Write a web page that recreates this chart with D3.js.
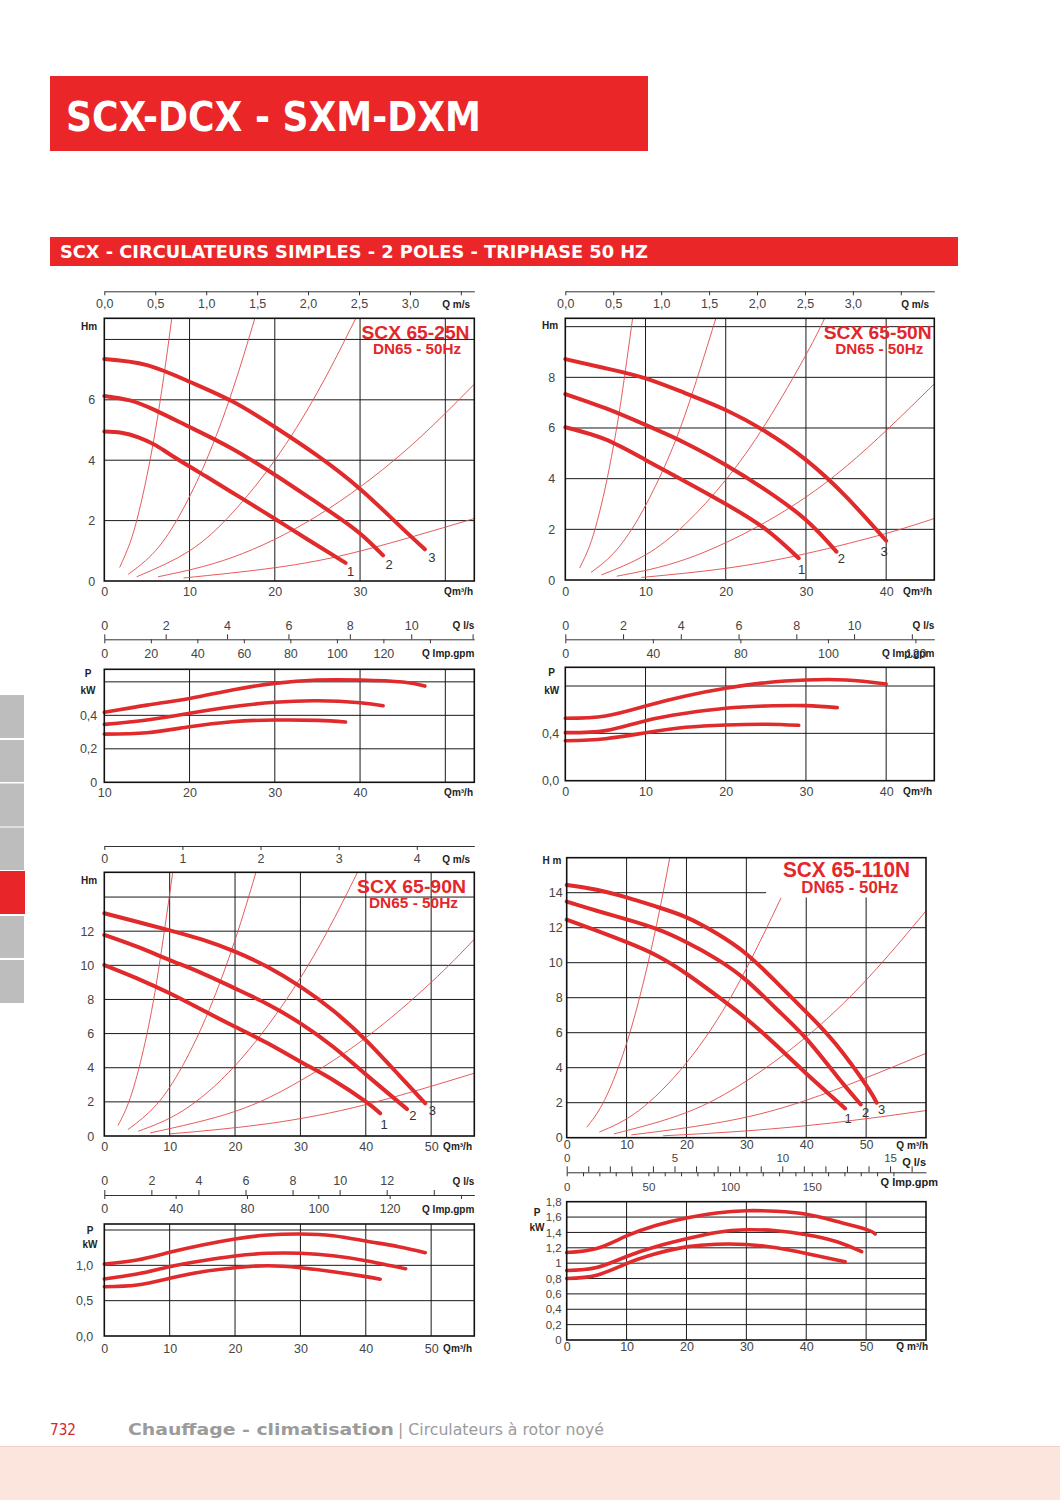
<!DOCTYPE html>
<html>
<head>
<meta charset="utf-8">
<script src="https://cdn.jsdelivr.net/npm/d3@7"></script>
<style>
  body { margin: 0; background: #fff; }
  svg { display: block; }
</style>
</head>
<body>
<div id="page"></div>
<script>
// ---------- data (Q m3/h, H m or P kW) ----------
// SCX 65-25N
const headA1 = [[0,4.95],[2,4.91],[4,4.76],[6,4.5],[8,4.14],[12,3.45],[16,2.76],[20,2.06],[24,1.35],[28.3,0.6]];
const headA2 = [[0,6.13],[3,5.98],[6,5.65],[10,5.1],[15,4.38],[20,3.52],[24,2.77],[28,2.0],[30.5,1.45],[32.7,0.85]];
const headA3 = [[0,7.35],[5,7.15],[10,6.6],[15,5.95],[20,5.1],[25,4.15],[30,3.05],[34,2.0],[37.6,1.05]];
const sysA1 = [[1.8,0.45],[3,1.25],[4,2.22],[5,3.48],[6,5.0],[7,6.81],[7.9,8.67]];
const sysA2 = [[2.8,0.22],[6,1.0],[9,2.26],[12,4.02],[15,6.28],[17.7,8.74]];
const sysA3 = [[3.8,0.14],[10,1.0],[15,2.25],[20,4.0],[25,6.25],[29.5,8.7]];
const sysA4 = [[6.3,0.14],[15,0.78],[25,2.16],[35,4.24],[43.4,6.52]];
const sysA5 = [[9.3,0.1],[20,0.44],[30,0.99],[43.4,2.07]];
const powerA1 = [[10,0.288],[15,0.296],[20,0.332],[25,0.362],[30,0.372],[35,0.37],[38.3,0.36]];
const powerA2 = [[10,0.346],[15,0.372],[20,0.412],[25,0.451],[30,0.478],[35,0.487],[40,0.475],[42.7,0.457]];
const powerA3 = [[10,0.418],[15,0.461],[20,0.501],[25,0.551],[30,0.591],[35,0.611],[40,0.611],[45,0.599],[47.6,0.575]];

// SCX 65-50N
const headB1 = [[0,6.03],[5,5.55],[10,4.74],[15,3.88],[20,3.0],[25,2.0],[29.1,0.86]];
const headB2 = [[0,7.34],[5,6.78],[10,6.12],[15,5.4],[20,4.54],[25,3.55],[30,2.37],[33.8,1.12]];
const headB3 = [[0,8.72],[5,8.36],[10,7.96],[15,7.37],[20,6.71],[25,5.85],[30,4.74],[35,3.29],[40,1.55]];
const sysB1 = [[1.8,0.48],[3,1.32],[4,2.35],[5,3.67],[6,5.28],[7,7.19],[8.4,10.35]];
const sysB2 = [[3.2,0.3],[6,1.05],[9,2.37],[12,4.22],[15,6.59],[18.8,10.36]];
const sysB3 = [[4.5,0.2],[10,0.99],[15,2.22],[20,3.95],[25,6.18],[30,8.89],[32.3,10.31]];
const sysB4 = [[6.4,0.15],[15,0.82],[25,2.29],[35,4.48],[46,7.74]];
const sysB5 = [[9.5,0.1],[20,0.46],[30,1.04],[40,1.84],[46,2.43]];
const powerB1 = [[0,0.338],[5,0.355],[10,0.405],[15,0.451],[20,0.471],[25,0.477],[29.1,0.468]];
const powerB2 = [[0,0.406],[5,0.423],[10,0.507],[15,0.57],[20,0.612],[25,0.631],[30,0.634],[33.9,0.617]];
const powerB3 = [[0,0.527],[5,0.547],[10,0.631],[15,0.716],[20,0.781],[25,0.828],[30,0.851],[35,0.851],[40,0.817]];

// SCX 65-90N
const headC1 = [[0,10.02],[5,9.24],[10,8.36],[15,7.38],[20,6.4],[25,5.43],[30,4.35],[35,3.28],[40,2.01],[42.2,1.33]];
const headC2 = [[0,11.78],[5,11.09],[10,10.31],[15,9.53],[20,8.65],[25,7.72],[30,6.6],[35,5.23],[40,3.61],[46.3,1.58]];
const headC3 = [[0,13.05],[5,12.55],[10,12.05],[15,11.5],[20,10.8],[25,9.9],[30,8.75],[35,7.35],[40,5.62],[45,3.6],[49.1,1.91]];
const sysC1 = [[2.1,0.62],[4,2.26],[6,5.08],[8,9.02],[10.45,15.4]];
const sysC2 = [[3.6,0.37],[8,1.84],[12,4.13],[16,7.35],[20,11.48],[23.2,15.45]];
const sysC3 = [[5.2,0.28],[12,1.48],[20,4.12],[28,8.08],[34,11.9],[38.7,15.43]];
const sysC4 = [[7,0.18],[20,1.44],[30,3.24],[40,5.76],[50,9.0],[56.6,11.53]];
const sysC5 = [[10,0.12],[25,0.72],[40,1.84],[56.6,3.68]];
const powerC1 = [[0,0.698],[5,0.722],[10,0.816],[15,0.91],[20,0.967],[25,0.995],[30,0.967],[35,0.91],[40,0.84],[42.2,0.803]];
const powerC2 = [[0,0.807],[5,0.877],[10,0.981],[15,1.066],[20,1.132],[25,1.17],[30,1.17],[35,1.136],[40,1.066],[46.1,0.952]];
const powerC3 = [[0,1.019],[5,1.075],[10,1.184],[15,1.288],[20,1.373],[25,1.429],[30,1.443],[35,1.419],[40,1.344],[45,1.264],[49.1,1.179]];

// SCX 65-110N
const headD1 = [[0,12.46],[5,11.83],[10,11.17],[15,10.41],[20,9.37],[25,8.13],[30,6.8],[35,5.28],[40,3.67],[46.5,1.67]];
const headD2 = [[0,13.49],[5,12.97],[10,12.48],[15,11.93],[20,11.17],[25,10.22],[30,8.99],[35,7.37],[40,5.66],[45,3.57],[49.1,1.9]];
const headD3 = [[0,14.44],[5,14.17],[10,13.73],[15,13.2],[20,12.59],[25,11.68],[30,10.5],[35,8.89],[40,7.18],[45,5.32],[50,3.0],[51.75,2.0]];
const sysD1 = [[3.35,0.6],[6,1.94],[9,4.37],[12,7.78],[15,12.15],[17.2,15.98]];
const sysD2 = [[5.45,0.32],[12,1.54],[20,4.28],[28,8.39],[35.8,13.71]];
const sysD3 = [[7.9,0.22],[20,1.44],[30,3.24],[40,5.76],[50,9.0],[60,12.96]];
const sysD4 = [[10.8,0.16],[25,0.84],[40,2.14],[60,4.82]];
const sysD5 = [[16.1,0.11],[30,0.39],[45,0.87],[60,1.55]];
const powerD1 = [[0,0.8],[5,0.843],[10,0.995],[15,1.125],[20,1.212],[25,1.247],[30,1.243],[35,1.2],[40,1.125],[46.5,1.017]];
const powerD2 = [[0,0.904],[5,0.943],[10,1.087],[15,1.217],[20,1.317],[25,1.4],[30,1.435],[35,1.421],[40,1.369],[45,1.282],[49.25,1.15]];
const powerD3 = [[0,1.138],[5,1.19],[10,1.354],[15,1.493],[20,1.588],[25,1.653],[30,1.683],[35,1.675],[40,1.636],[45,1.545],[50,1.44],[51.5,1.381]];

// ---------- tick values and labels ----------
const curveNames = ["1", "2", "3"];
const msTicks25 = [0, 0.5, 1, 1.5, 2, 2.5, 3, 3.5];
const msLabels25 = ["0,0", "0,5", "1,0", "1,5", "2,0", "2,5", "3,0", ""];
const msTicks90 = [0, 1, 2, 3, 4];
const msLabels90 = ["0", "1", "2", "3", "4"];
const lsTicksA = [0, 2, 4, 6, 8, 10, 12];
const lsLabelsA = ["0", "2", "4", "6", "8", "10", ""];
const gpmTicksA = [0, 20, 40, 60, 80, 100, 120, 140];
const gpmLabelsA = ["0", "20", "40", "60", "80", "100", "120", ""];
const gpmTicksB = [0, 40, 80, 120, 160];
const gpmLabelsB = ["0", "40", "80", "100", "120"];
const lsTicksC = [0, 2, 4, 6, 8, 10, 12, 14];
const lsLabelsC = ["0", "2", "4", "6", "8", "10", "12", ""];
const gpmTicksC = [0, 40, 80, 120, 160, 200];
const gpmLabelsC = ["0", "40", "80", "100", "120", ""];
const lsTicksD = d3.range(0, 17, 1);
const lsLabelsD = lsTicksD.map(d => d % 5 === 0 ? String(d) : "");
const gpmTicksD = d3.range(0, 210, 10);
const gpmLabelsD = gpmTicksD.map(d => (d % 50 === 0 && d < 200) ? String(d) : "");
const pTicksA = [0, 0.2, 0.4];
const pLabelsA = ["0", "0,2", "0,4"];
const pTicksB = [0, 0.4];
const pLabelsB = ["0,0", "0,4"];
const pTicksC = [0, 0.5, 1.0];
const pLabelsC = ["0,0", "0,5", "1,0"];
const pTicksD = [0, 0.2, 0.4, 0.6, 0.8, 1, 1.2, 1.4, 1.6, 1.8];
const pLabelsD = ["0", "0,2", "0,4", "0,6", "0,8", "1", "1,2", "1,4", "1,6", "1,8"];

// unit conversions for the secondary flow axes (DN65)
const M3H_PER_MS = 11.95, M3H_PER_LS = 3.6, M3H_PER_GPM = 0.2728;

const FONT = '"Liberation Sans", Arial, Helvetica, sans-serif';
const NARROW = '"Liberation Sans Narrow", "DejaVu Sans Condensed", "Liberation Sans", sans-serif';
const RED = "#e3272b";
const CURVE = "#e02a2c";

// ---------- panel layout ----------
const panels = [
  {
    id: "a", title: "SCX 65-25N", sub: "DN65 - 50Hz",
    t: { x: 469.5, y: 338.5, size: 19, len: 108, sx: 461, sy: 353.5, ssize: 14, slen: 88 },
    head: { left: 104.3, right: 474.3, top: 318.3, bottom: 581, qMax: 43.4, hMax: 8.7,
      qGrid: [10, 20, 30, 40], hGrid: [2, 4, 6, 8], qTicks: [0, 10, 20, 30], hTicks: [0, 2, 4, 6],
      xOff: 10.7, yOff: -9, unit: "Hm", ux: 89, uy: 326, qUnit: "Qm³/h", qux: 473, quy: 591.7 },
    curves: [headA1, headA2, headA3], systems: [sysA1, sysA2, sysA3, sysA4, sysA5],
    endOff: [[5, 9], [6, 9], [7, 8]],
    ms: { y: 291.3, ticks: msTicks25, labels: msLabels25, off: 12, ux: 470, uy: 304.5 },
    sec: { y: 639.3, ls: lsTicksA, lsL: lsLabelsA, gpm: gpmTicksA, gpmL: gpmLabelsA, off: 14 },
    power: { top: 669.3, bottom: 782.3, qMin: 10, qMax: 53.4, pMax: 0.675,
      qGrid: [20, 30, 40, 50], pGrid: [0.2, 0.4, 0.6], qTicks: [10, 20, 30, 40],
      pTicks: pTicksA, pLabels: pLabelsA, xOff: 10.4, yOff: -7, px: 88, py: 673.5, ky: 690, quy: 792.7 },
    pcurves: [powerA1, powerA2, powerA3]
  },
  {
    id: "b", title: "SCX 65-50N", sub: "DN65 - 50Hz",
    t: { x: 931.7, y: 338.5, size: 19, len: 108, sx: 923.3, sy: 353.5, ssize: 14, slen: 88 },
    head: { left: 565.3, right: 934.3, top: 318.3, bottom: 580, qMax: 46, hMax: 10.33,
      qGrid: [10, 20, 30, 40], hGrid: [2, 4, 6, 8, 10], qTicks: [0, 10, 20, 30, 40], hTicks: [0, 2, 4, 6, 8],
      xOff: 11.7, yOff: -10, unit: "Hm", ux: 550, uy: 325, qUnit: "Qm³/h", qux: 932, quy: 591.7 },
    curves: [headB1, headB2, headB3], systems: [sysB1, sysB2, sysB3, sysB4, sysB5],
    endOff: [[3, 11], [5, 7], [-2, 11]],
    ms: { y: 291.3, ticks: msTicks25, labels: msLabels25, off: 12, ux: 929, uy: 304.5 },
    sec: { y: 639.3, ls: lsTicksA, lsL: lsLabelsA, gpm: gpmTicksB, gpmL: gpmLabelsB, off: 14 },
    power: { top: 667.3, bottom: 780.7, qMin: 0, qMax: 46, pMax: 0.958,
      qGrid: [10, 20, 30, 40], pGrid: [0.4, 0.8], qTicks: [0, 10, 20, 30, 40],
      pTicks: pTicksB, pLabels: pLabelsB, xOff: 11, yOff: -6, px: 551.7, py: 672, ky: 690, quy: 791.7 },
    pcurves: [powerB1, powerB2, powerB3]
  },
  {
    id: "c", title: "SCX 65-90N", sub: "DN65 - 50Hz",
    t: { x: 466, y: 893, size: 19, len: 109, sx: 458, sy: 908, ssize: 14, slen: 89 },
    head: { left: 104.3, right: 474.3, top: 872.3, bottom: 1136, qMax: 56.6, hMax: 15.45,
      qGrid: [10, 20, 30, 40, 50], hGrid: [2, 4, 6, 8, 10, 12, 14], qTicks: [0, 10, 20, 30, 40, 50],
      hTicks: [0, 2, 4, 6, 8, 10, 12],
      xOff: 10.7, yOff: -10, unit: "Hm", ux: 89, uy: 880.5, qUnit: "Qm³/h", qux: 472, quy: 1146.7 },
    curves: [headC1, headC2, headC3], systems: [sysC1, sysC2, sysC3, sysC4, sysC5],
    endOff: [[4, 11], [6, 6], [7, 7]],
    ms: { y: 846, ticks: msTicks90, labels: msLabels90, off: 12.5, ux: 470, uy: 859 },
    sec: { y: 1195, ls: lsTicksC, lsL: lsLabelsC, gpm: gpmTicksC, gpmL: gpmLabelsC, off: 14 },
    power: { top: 1224, bottom: 1336, qMin: 0, qMax: 56.6, pMax: 1.585,
      qGrid: [10, 20, 30, 40, 50], pGrid: [0.5, 1.0, 1.5], qTicks: [0, 10, 20, 30, 40, 50],
      pTicks: pTicksC, pLabels: pLabelsC, xOff: 12.3, yOff: -11, px: 90, py: 1230, ky: 1244, quy: 1348.3 },
    pcurves: [powerC1, powerC2, powerC3]
  },
  {
    id: "d", title: "SCX 65-110N", sub: "DN65 - 50Hz",
    t: { x: 910, y: 876.5, size: 22, len: 127, sx: 898.3, sy: 893, ssize: 16, slen: 97 },
    head: { left: 566.7, right: 926, top: 857.7, bottom: 1137.7, qMax: 60, hMax: 16,
      qGrid: [10, 20, 30, 40, 50], hGrid: [2, 4, 6, 8, 10, 12, 14],
      qGridTop: { 40: 13.73, 50: 13.73 }, hGridEnd: { 14: 33.3 },
      qTicks: [0, 10, 20, 30, 40, 50], hTicks: [0, 2, 4, 6, 8, 10, 12, 14],
      xOff: 7.3, yOff: -4, unit: "H m", ux: 552, uy: 860.5, qUnit: "Q m³/h", qux: 928, quy: 1145 },
    curves: [headD1, headD2, headD3], systems: [sysD1, sysD2, sysD3, sysD4, sysD5],
    endOff: [[3, 10], [5, 8], [5, 7]],
    ms: null,
    sec: { y: 1172.3, ls: lsTicksD, lsL: lsLabelsD, gpm: gpmTicksD, gpmL: gpmLabelsD, off: 14.5, dense: true },
    power: { top: 1201.7, bottom: 1340, qMin: 0, qMax: 60, pMax: 1.8,
      qGrid: [10, 20, 30, 40, 50], pGrid: [0.2, 0.4, 0.6, 0.8, 1, 1.2, 1.4, 1.6], qTicks: [0, 10, 20, 30, 40, 50],
      pTicks: pTicksD, pLabels: pLabelsD, xOff: 6.7, yOff: -5, px: 537, py: 1212, ky: 1227, quy: 1346.7 },
    pcurves: [powerD1, powerD2, powerD3]
  }
];

const svg = d3.select("#page").append("svg")
  .attr("width", 1060).attr("height", 1500)
  .attr("font-family", FONT);

// ---------- page furniture ----------
svg.append("rect").attr("x", 50).attr("y", 76).attr("width", 598).attr("height", 75).attr("fill", "#ea2629");
svg.append("text").attr("x", 66).attr("y", 131).attr("fill", "#fff")
  .attr("font-family", NARROW).attr("font-weight", "bold").attr("font-size", 40)
  .attr("textLength", 415).attr("lengthAdjust", "spacingAndGlyphs")
  .text("SCX-DCX - SXM-DXM");

svg.append("rect").attr("x", 50).attr("y", 237).attr("width", 908).attr("height", 29).attr("fill", "#ea2629");
svg.append("text").attr("x", 60).attr("y", 258.3).attr("fill", "#fff")
  .attr("font-family", NARROW).attr("font-weight", "bold").attr("font-size", 18.5)
  .attr("textLength", 588).attr("lengthAdjust", "spacingAndGlyphs")
  .text("SCX - CIRCULATEURS SIMPLES - 2 POLES - TRIPHASE 50 HZ");

// side index tabs
const tabs = [[695, 738], [740, 782], [783.5, 826.5], [827.5, 870], [871, 914], [916, 958], [960, 1003]];
svg.selectAll(".tab").data(tabs).join("rect")
  .attr("class", "tab")
  .attr("x", 0).attr("y", d => d[0])
  .attr("width", (d, i) => i === 4 ? 25 : 24)
  .attr("height", d => d[1] - d[0])
  .attr("fill", (d, i) => i === 4 ? "#e8262a" : "#bdbdbd");

// footer
svg.append("rect").attr("x", 0).attr("y", 1446).attr("width", 1060).attr("height", 54).attr("fill", "#fce5dc");
svg.append("line").attr("x1", 0).attr("x2", 1060).attr("y1", 1446.5).attr("y2", 1446.5).attr("stroke", "#f1d0c5");
svg.append("text").attr("x", 50).attr("y", 1435).attr("fill", "#d3262c")
  .attr("font-family", NARROW).attr("font-size", 16).attr("textLength", 26).attr("lengthAdjust", "spacingAndGlyphs")
  .text("732");
svg.append("text").attr("x", 128).attr("y", 1435).attr("fill", "#9b9b9b")
  .attr("font-family", '"DejaVu Sans", sans-serif').attr("font-weight", "bold").attr("font-size", 16)
  .attr("textLength", 266).attr("lengthAdjust", "spacingAndGlyphs")
  .text("Chauffage - climatisation");
svg.append("text").attr("x", 398).attr("y", 1435).attr("fill", "#9b9b9b")
  .attr("font-family", NARROW).attr("font-size", 15.5).attr("textLength", 206).attr("lengthAdjust", "spacingAndGlyphs")
  .text("| Circulateurs à rotor noyé");

// ---------- helpers ----------
function styleAxis(g, size) {
  g.attr("font-family", FONT).attr("font-size", size);
  g.selectAll(".tick text").attr("fill", "#454545");
  g.selectAll(".tick line").attr("stroke", "#333");
  g.select(".domain").attr("stroke", "#333");
  return g;
}

function boldLabel(parent, x, y, txt, anchor, size) {
  parent.append("text").attr("x", x).attr("y", y).attr("dy", "0.35em")
    .attr("text-anchor", anchor).attr("font-weight", "bold").attr("font-size", size || 10)
    .attr("fill", "#222").text(txt);
}

function gridLines(g, x, y, qGrid, hGrid, qTop, hEnd) {
  const [h0, h1] = y.domain();
  const [q0, q1] = x.domain();
  g.selectAll(".vg").data(qGrid).join("line").attr("class", "vg")
    .attr("x1", d => x(d)).attr("x2", d => x(d))
    .attr("y1", d => y(qTop && qTop[d] !== undefined ? qTop[d] : h1)).attr("y2", y(h0))
    .attr("stroke", "#1a1a1a").attr("stroke-width", 1);
  g.selectAll(".hg").data(hGrid).join("line").attr("class", "hg")
    .attr("x1", x(q0)).attr("x2", d => x(hEnd && hEnd[d] !== undefined ? hEnd[d] : q1))
    .attr("y1", d => y(d)).attr("y2", d => y(d))
    .attr("stroke", "#1a1a1a").attr("stroke-width", 1);
}

// smooth splines through the read points
const line = (x, y) => d3.line().x(d => x(d[0])).y(d => y(d[1])).curve(d3.curveNatural);

// ---------- draw each pump panel ----------
panels.forEach(p => {
  const g = svg.append("g").attr("class", "panel-" + p.id);
  const hd = p.head;

  // head chart
  const x = d3.scaleLinear().domain([0, hd.qMax]).range([hd.left, hd.right]);
  const y = d3.scaleLinear().domain([0, hd.hMax]).range([hd.bottom, hd.top]);

  g.append("clipPath").attr("id", "clip-" + p.id).append("rect")
    .attr("x", hd.left).attr("y", hd.top).attr("width", hd.right - hd.left).attr("height", hd.bottom - hd.top);

  gridLines(g.append("g"), x, y, hd.qGrid, hd.hGrid, hd.qGridTop, hd.hGridEnd);

  // system curves
  g.append("g").attr("clip-path", `url(#clip-${p.id})`)
    .selectAll("path").data(p.systems).join("path")
    .attr("d", line(x, y)).attr("fill", "none")
    .attr("stroke", "#e24a4a").attr("stroke-width", 0.9);

  // pump curves
  g.append("g").selectAll("path").data(p.curves).join("path")
    .attr("d", line(x, y)).attr("fill", "none")
    .attr("stroke", CURVE).attr("stroke-width", 4).attr("stroke-linecap", "round");

  // curve numbers
  g.append("g").selectAll("text").data(p.curves).join("text")
    .attr("x", (d, i) => x(d[d.length - 1][0]) + p.endOff[i][0])
    .attr("y", (d, i) => y(d[d.length - 1][1]) + p.endOff[i][1])
    .attr("dy", "0.35em").attr("text-anchor", "middle")
    .attr("font-size", 13).attr("fill", "#333")
    .text((d, i) => curveNames[i]);

  // frame
  g.append("rect").attr("x", hd.left).attr("y", hd.top)
    .attr("width", hd.right - hd.left).attr("height", hd.bottom - hd.top)
    .attr("fill", "none").attr("stroke", "#111").attr("stroke-width", 1.6);

  // head axes labels
  styleAxis(g.append("g").attr("transform", `translate(0,${hd.bottom})`)
    .call(d3.axisBottom(x).tickValues(hd.qTicks).tickSize(0).tickFormat(d3.format("d"))), 12.5)
    .call(a => a.select(".domain").remove())
    .selectAll("text").attr("y", hd.xOff).attr("dy", "0.35em");
  styleAxis(g.append("g").attr("transform", `translate(${hd.left},0)`)
    .call(d3.axisLeft(y).tickValues(hd.hTicks).tickSize(0).tickFormat(d3.format("d"))), 12.5)
    .call(a => a.select(".domain").remove())
    .selectAll("text").attr("x", hd.yOff);
  boldLabel(g, hd.ux, hd.uy, hd.unit, "middle", 10);
  boldLabel(g, hd.qux, hd.quy, hd.qUnit, "end", 10);

  // title
  g.append("text").attr("x", p.t.x).attr("y", p.t.y).attr("text-anchor", "end")
    .attr("font-weight", "bold").attr("font-size", p.t.size).attr("fill", RED)
    .attr("textLength", p.t.len).attr("lengthAdjust", "spacingAndGlyphs").text(p.title);
  g.append("text").attr("x", p.t.sx).attr("y", p.t.sy).attr("text-anchor", "end")
    .attr("font-weight", "bold").attr("font-size", p.t.ssize).attr("fill", RED)
    .attr("textLength", p.t.slen).attr("lengthAdjust", "spacingAndGlyphs").text(p.sub);

  // velocity axis on top
  if (p.ms) {
    const xm = d3.scaleLinear().domain([0, hd.qMax / M3H_PER_MS]).range([hd.left, hd.right]);
    styleAxis(g.append("g").attr("transform", `translate(0,${p.ms.y})`)
      .call(d3.axisBottom(xm).tickValues(p.ms.ticks).tickSize(4).tickSizeOuter(0)
        .tickFormat((d, i) => p.ms.labels[i])), 12.5)
      .selectAll("text").attr("y", p.ms.off).attr("dy", "0.35em");
    boldLabel(g, p.ms.ux, p.ms.uy, "Q m/s", "end", 10);
  }

  // l/s and Imp.gpm axes
  const s = p.sec;
  const xl = d3.scaleLinear().domain([0, hd.qMax / M3H_PER_LS]).range([hd.left, hd.right]);
  const xg = d3.scaleLinear().domain([0, hd.qMax / M3H_PER_GPM]).range([hd.left, hd.right]);
  const secSize = s.dense ? 11.5 : 12.5;
  styleAxis(g.append("g").attr("transform", `translate(0,${s.y})`)
    .call(d3.axisTop(xl).tickValues(s.ls).tickSize(s.dense ? 6 : 5).tickSizeOuter(0)
      .tickFormat((d, i) => s.lsL[i])), secSize)
    .selectAll("text").attr("y", -s.off).attr("dy", "0.35em");
  styleAxis(g.append("g").attr("transform", `translate(0,${s.y})`)
    .call(d3.axisBottom(xg).tickValues(s.gpm).tickSize(4).tickSizeOuter(0)
      .tickFormat((d, i) => s.gpmL[i])), secSize)
    .call(a => a.select(".domain").remove())
    .selectAll("text").attr("y", s.off).attr("dy", "0.35em");
  boldLabel(g, hd.right, s.y - (s.dense ? 10 : 14), "Q l/s", "end", s.dense ? 11 : 10);
  boldLabel(g, hd.right + (s.dense ? 12 : 0), s.y + (s.dense ? 9.5 : 14), "Q Imp.gpm", "end", s.dense ? 11 : 10);

  // power chart
  const pw = p.power;
  const xp = d3.scaleLinear().domain([pw.qMin, pw.qMax]).range([hd.left, hd.right]);
  const yp = d3.scaleLinear().domain([0, pw.pMax]).range([pw.bottom, pw.top]);
  gridLines(g.append("g"), xp, yp, pw.qGrid, pw.pGrid);
  g.append("g").selectAll("path").data(p.pcurves).join("path")
    .attr("d", line(xp, yp)).attr("fill", "none")
    .attr("stroke", CURVE).attr("stroke-width", 3.6).attr("stroke-linecap", "round");
  g.append("rect").attr("x", hd.left).attr("y", pw.top)
    .attr("width", hd.right - hd.left).attr("height", pw.bottom - pw.top)
    .attr("fill", "none").attr("stroke", "#111").attr("stroke-width", 1.6);
  styleAxis(g.append("g").attr("transform", `translate(0,${pw.bottom})`)
    .call(d3.axisBottom(xp).tickValues(pw.qTicks).tickSize(0).tickFormat(d3.format("d"))), 12.5)
    .call(a => a.select(".domain").remove())
    .selectAll("text").attr("y", pw.xOff).attr("dy", "0.35em");
  styleAxis(g.append("g").attr("transform", `translate(${hd.left},0)`)
    .call(d3.axisLeft(yp).tickValues(pw.pTicks).tickSize(0).tickFormat((d, i) => pw.pLabels[i])),
    s.dense ? 11.5 : 12.5)
    .call(a => a.select(".domain").remove())
    .selectAll("text").attr("x", pw.yOff);
  boldLabel(g, pw.px, pw.py, "P", "middle", 10);
  boldLabel(g, pw.px, pw.ky, "kW", "middle", 10);
  boldLabel(g, hd.qux, pw.quy, hd.qUnit, "end", 10);
});
</script>
</body>
</html>
